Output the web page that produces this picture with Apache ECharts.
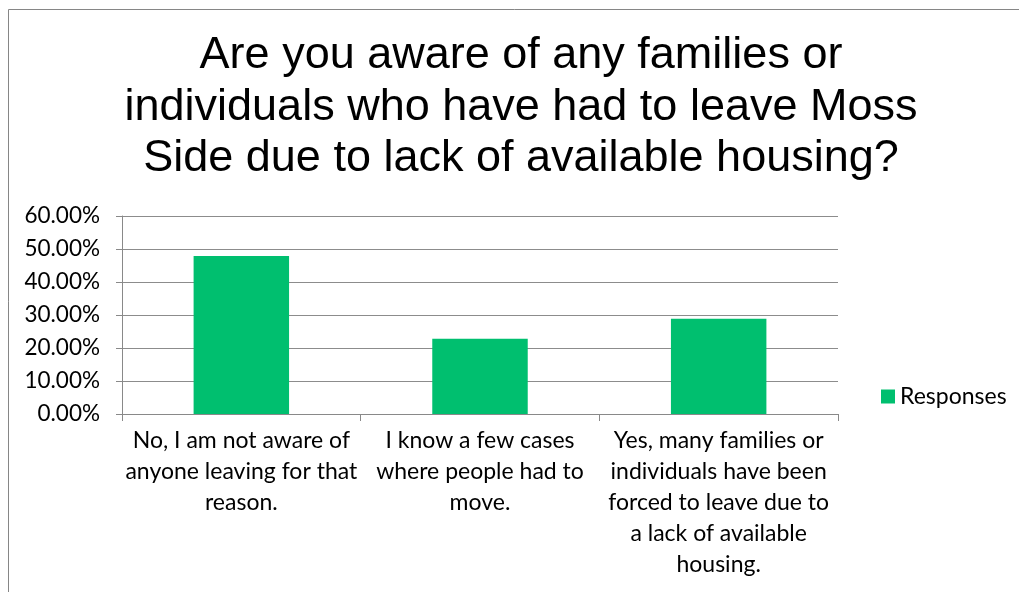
<!DOCTYPE html>
<html>
<head>
<meta charset="utf-8">
<script src="https://cdn.jsdelivr.net/npm/echarts@6/dist/echarts.min.js"></script>
<style>
html,body{margin:0;padding:0;background:#fff;}
#chart{width:1019px;height:592px;}
</style>
</head>
<body>
<div id="chart"></div>
<script>
const titleText = "Are you aware of any families or\nindividuals who have had to leave Moss\nSide due to lack of available housing?";
const categories = [
  "No, I am not aware of\nanyone leaving for that\nreason.",
  "I know a few cases\nwhere people had to\nmove.",
  "Yes, many families or\nindividuals have been\nforced to leave due to\na lack of available\nhousing."
];
const seriesName = "Responses";
const values = [47.9, 22.8, 28.9];
const yTicks = [0, 10, 20, 30, 40, 50, 60];

const chart = echarts.init(document.getElementById('chart'));
chart.setOption({
  animation: false,
  backgroundColor: '#fff',
  graphic: [{
    type: 'rect',
    shape: {x: 8.5, y: 9.5, width: 1100, height: 700},
    style: {fill: 'none', stroke: '#868686', lineWidth: 1},
    silent: true
  }],
  title: {
    text: titleText,
    left: 516,
    textAlign: 'center',
    top: 25,
    textStyle: {
      fontFamily: 'Liberation Sans, Arial, sans-serif',
      fontSize: 45,
      fontWeight: 'normal',
      color: '#000',
      lineHeight: 51.5
    }
  },
  legend: {
    data: [seriesName],
    left: 876,
    top: 380,
    itemWidth: 14,
    itemHeight: 14,
    itemGap: 8,
    icon: 'rect',
    textStyle: {fontFamily: 'Lato, sans-serif', fontSize: 23, color: '#000'}
  },
  grid: {left: 122, right: 181, top: 216, bottom: 178, containLabel: false},
  xAxis: {
    type: 'category',
    data: categories,
    axisLine: {lineStyle: {color: '#898989', width: 1}},
    axisTick: {show: true, length: 7, alignWithLabel: false, lineStyle: {color: '#898989'}},
    axisLabel: {
      interval: 0,
      margin: 11,
      fontFamily: 'Lato, sans-serif',
      fontSize: 23,
      color: '#000',
      lineHeight: 31,
      align: 'center'
    }
  },
  yAxis: {
    type: 'value',
    min: 0,
    max: 60,
    interval: 10,
    axisLine: {show: true, lineStyle: {color: '#898989', width: 1}},
    axisTick: {show: true, length: 6, lineStyle: {color: '#898989'}},
    splitLine: {lineStyle: {color: '#8c8c8c', width: 1}},
    axisLabel: {
      margin: 22,
      fontFamily: 'Lato, sans-serif',
      fontSize: 22.5,
      color: '#000',
      formatter: v => yTicks.includes(v) ? v.toFixed(2) + '%' : ''
    }
  },
  series: [{
    name: seriesName,
    type: 'bar',
    data: values,
    barWidth: '40%',
    itemStyle: {color: '#00bf6f'}
  }]
});
</script>
</body>
</html>
